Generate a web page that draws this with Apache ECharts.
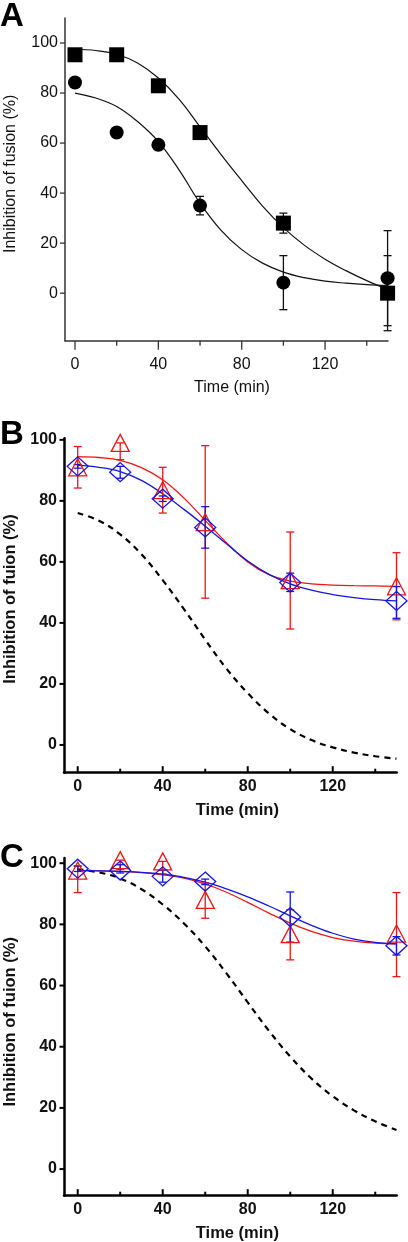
<!DOCTYPE html>
<html><head><meta charset="utf-8">
<script src="https://cdn.jsdelivr.net/npm/echarts@6/dist/echarts.min.js"></script>
<style>html,body{margin:0;padding:0;background:#fff}#c{width:408px;height:1242px}</style>
</head><body><div id="c"></div>
<script>
// ---------- DATA ----------
const majorTicksX = [0, 40, 80, 120];
const minorTicksX = [20, 60, 100, 140];
const ticksYA = [0, 20, 40, 60, 80, 100];
const ticksYBC = [0, 20, 40, 60, 80, 100];

// Panel A
const timeA = [0, 20, 40, 60, 100, 150];
const squareA = [95.3, 95.3, 82.9, 64.2, 28, 0];
const squareErrA = [0, 0, 0, 0, 4, 15];
const circleA = [84.2, 64.2, 59.3, 35, 4.2, 6];
const circleErrA = [0, 0, 0, 3.7, 10.8, 19];
const fitTime = [0, 10, 20, 30, 40, 50, 60, 70, 80, 90, 100, 110, 120, 130, 140, 150];
const squareFitA = [97.5, 97, 95.5, 92, 86, 77.5, 66.5, 55.5, 45, 34.8, 26.2, 19.2, 13.6, 9, 5, 1.5];
const circleFitA = [80, 78, 74.6, 68.6, 60.6, 49.2, 36, 25.2, 17.4, 12, 8.4, 6.2, 4.8, 4, 3.4, 3];

// Panel B
const timeBC = [0, 20, 40, 60, 100, 150];
const redB = [91, 99, 83.5, 73, 54, 52];
const redLoB = [84.2, 93.5, 76, 48.1, 38, 41];
const redHiB = [97.8, 99, 91, 98.1, 69.8, 63];
const blueB = [91.3, 89.4, 80.7, 71.3, 53.2, 47.2];
const blueLoB = [90.7, 87.4, 79.8, 64.5, 50.3, 41.5];
const blueHiB = [91.9, 91.3, 81.6, 78.1, 56.3, 51.9];
const redFitB = [94.5, 94.2, 93.3, 90.9, 86.9, 80.9, 73.6, 66.3, 60, 55.8, 53.7, 52.8, 52.4, 52.2, 52.1, 52];
const blueFitB = [91.6, 91, 89.6, 86.7, 82.3, 77.2, 71.7, 65.9, 60.3, 55.9, 52.8, 50.7, 49.3, 48.3, 47.6, 47.2];
const dashFitB = [76, 73.5, 69, 62.5, 54, 44.5, 34.5, 25, 17, 10.3, 5.2, 1.6, -0.8, -2.5, -3.7, -4.5];

// Panel C
const redC = [97.6, 101, 100.6, 88, 76.8, 77];
const redLoC = [90.4, 98, 96.5, 82, 68.4, 62.9];
const redHiC = [99, 101, 100.6, 93.5, 84.8, 90.4];
const blueC = [98.2, 97.6, 95.7, 94, 82.4, 73];
const blueLoC = [97.3, 96.8, 93.8, 93, 74.2, 70];
const blueHiC = [99.1, 99.5, 97.7, 94.8, 90.6, 76];
const redFitC = [97.6, 97.5, 97.3, 96.9, 96.2, 95.1, 93.2, 90.5, 87.2, 83.7, 80.4, 77.7, 75.7, 74.5, 73.9, 73.6];
const blueFitC = [97.6, 97.5, 97.3, 97, 96.4, 95.4, 93.8, 91.6, 89, 86, 82.8, 79.7, 77.1, 75.2, 74.1, 73.6];
const dashFitC = [98, 97, 95, 91.5, 86.5, 80.3, 72.8, 64, 54.5, 45.2, 36.8, 29.6, 23.8, 19.2, 15.6, 12.8];

// axis ranges
const rangeA = { xmin: -4.8, xmax: 150.2, ymin: -19, ymax: 110 };
const rangeB = { xmin: -6.45, xmax: 150.1, ymin: -9.1, ymax: 100.5 };
const rangeC = { xmin: -6.45, xmax: 150.1, ymin: -8.7, ymax: 101.7 };

// ---------- STYLE ----------
const FONT = 'Liberation Sans';
const RED = '#ee1515';
const BLUE = '#1515dd';

const zip = (xs, ys) => xs.map((x, i) => [x, ys[i]]);

function errSeries(ax, xs, lo, hi, color, z) {
  const data = xs.map((x, i) => [x, lo[i], hi[i]]).filter(d => d[1] !== d[2]);
  return {
    type: 'custom', xAxisIndex: ax, yAxisIndex: ax, silent: true, z: z, clip: false,
    data: data,
    renderItem: function (params, api) {
      const t = api.coord([api.value(0), api.value(2)]);
      const b = api.coord([api.value(0), api.value(1)]);
      const w = 4;
      const st = { stroke: color, lineWidth: 1.3 };
      return { type: 'group', children: [
        { type: 'line', shape: { x1: t[0], y1: t[1], x2: b[0], y2: b[1] }, style: st },
        { type: 'line', shape: { x1: t[0] - w, y1: t[1], x2: t[0] + w, y2: t[1] }, style: st },
        { type: 'line', shape: { x1: b[0] - w, y1: b[1], x2: b[0] + w, y2: b[1] }, style: st }
      ]};
    }
  };
}
// axis tick marks: one data item per tick, placed through the axes' own scales
// item = [x, y, kind]  kind 0: major x tick, 1: minor x tick, 2: y tick
function tickSeries(ax, r, yVals, thin) {
  const data = []
    .concat(majorTicksX.map(v => [v, r.ymin, 0]))
    .concat(minorTicksX.map(v => [v, r.ymin, 1]))
    .concat(yVals.map(v => [r.xmin, v, 2]));
  const color = thin ? '#333' : '#000';
  const lw = thin ? 1.3 : 2;
  const dir = thin ? 1 : -1;
  return {
    type: 'custom', xAxisIndex: ax, yAxisIndex: ax, silent: true, z: 6, clip: false,
    data: data,
    renderItem: function (params, api) {
      const p = api.coord([api.value(0), api.value(1)]);
      const kind = api.value(2);
      const st = { stroke: color, lineWidth: lw };
      if (kind === 2) {
        return { type: 'line', shape: { x1: p[0] - (thin ? 5 : 4.5), y1: p[1], x2: p[0], y2: p[1] }, style: st };
      }
      const len = kind === 0 ? (thin ? 9 : 6.5) : (thin ? 5 : 4);
      return { type: 'line', shape: { x1: p[0], y1: p[1], x2: p[0], y2: p[1] + dir * len }, style: st };
    }
  };
}
function fitLine(ax, ys, color, width, dashed) {
  return {
    type: 'line', xAxisIndex: ax, yAxisIndex: ax, data: zip(fitTime, ys), smooth: 0.4,
    showSymbol: false, silent: true, z: 2,
    lineStyle: { color: color, width: width, type: dashed ? [6, 5] : 'solid' }
  };
}
function scat(ax, xs, ys, symbol, size, fill, stroke, z) {
  return {
    type: 'scatter', xAxisIndex: ax, yAxisIndex: ax, data: zip(xs, ys), symbol: symbol,
    symbolSize: size, clip: false, silent: true, z: z,
    itemStyle: { color: fill, borderColor: stroke, borderWidth: stroke ? 1.3 : 0, opacity: 1 }
  };
}

// axes
function xAx(g, r, thin) {
  return {
    type: 'value', gridIndex: g, min: r.xmin, max: r.xmax, position: 'bottom',
    name: 'Time (min)', nameLocation: 'middle', nameGap: thin ? 39 : 29,
    nameTextStyle: { fontFamily: FONT, fontSize: thin ? 16 : 16.5, fontWeight: thin ? 'normal' : 'bold', color: '#111', padding: [0, 0, 0, thin ? 11 : 14] },
    axisLine: { show: true, onZero: false, lineStyle: { color: thin ? '#333' : '#000', width: thin ? 1.5 : 2.5 } },
    axisTick: { show: false },
    axisLabel: { show: true, customValues: majorTicksX, margin: thin ? 16 : 6, fontFamily: FONT, fontSize: 16, fontWeight: thin ? 'normal' : 'bold', color: '#111' },
    splitLine: { show: false }
  };
}
function yAx(g, r, ticks, thin, title, padL) {
  return {
    type: 'value', gridIndex: g, min: r.ymin, max: r.ymax, position: 'left',
    name: title, nameLocation: 'middle', nameRotate: 90, nameGap: thin ? 46 : 43,
    nameTextStyle: { fontFamily: FONT, fontSize: thin ? 16 : 16.5, fontWeight: thin ? 'normal' : 'bold', color: '#111', padding: [0, 0, 0, padL] },
    axisLine: { show: true, onZero: false, lineStyle: { color: thin ? '#333' : '#000', width: thin ? 1.5 : 2.5 } },
    axisTick: { show: false },
    axisLabel: { show: true, customValues: ticks, margin: 7, fontFamily: FONT, fontSize: 16, fontWeight: thin ? 'normal' : 'bold', color: '#111' },
    splitLine: { show: false }
  };
}

const gridBase = { outerBoundsMode: 'none' };
const option = {
  animation: false,
  backgroundColor: '#fff',
  grid: [
    Object.assign({ left: 65, top: 18, width: 323, height: 322.7 }, gridBase),
    Object.assign({ left: 64, top: 438.3, width: 332.7, height: 334.4 }, gridBase),
    Object.assign({ left: 64, top: 858, width: 332.7, height: 337.7 }, gridBase)
  ],
  xAxis: [
    xAx(0, rangeA, true),
    xAx(1, rangeB, false),
    xAx(2, rangeC, false)
  ],
  yAxis: [
    yAx(0, rangeA, ticksYA, true, 'Inhibition of fusion (%)', 11),
    yAx(1, rangeB, ticksYBC, false, 'Inhibition of fuion (%)', 13),
    yAx(2, rangeC, ticksYBC, false, 'Inhibition of fuion (%)', 10)
  ],
  graphic: [
    { type: 'text', left: 0, top: 0, style: { text: 'A', font: 'bold 33px "Liberation Sans"', fill: '#000' } },
    { type: 'text', left: 0, top: 418, style: { text: 'B', font: 'bold 33px "Liberation Sans"', fill: '#000' } },
    { type: 'text', left: 0, top: 841.5, style: { text: 'C', font: 'bold 33px "Liberation Sans"', fill: '#000' } }
  ],
  series: [
    // A
    fitLine(0, squareFitA, '#111', 1.2, false),
    fitLine(0, circleFitA, '#111', 1.2, false),
    errSeries(0, timeA, squareA.map((v, i) => v - squareErrA[i]), squareA.map((v, i) => v + squareErrA[i]), '#111', 3),
    errSeries(0, timeA, circleA.map((v, i) => v - circleErrA[i]), circleA.map((v, i) => v + circleErrA[i]), '#111', 3),
    scat(0, timeA, squareA, 'rect', 15, '#000', null, 4),
    scat(0, timeA, circleA, 'circle', 14, '#000', null, 4),
    // B
    fitLine(1, dashFitB, '#000', 2.2, true),
    fitLine(1, redFitB, RED, 1.3, false),
    fitLine(1, blueFitB, BLUE, 1.3, false),
    errSeries(1, timeBC, redLoB, redHiB, RED, 3),
    errSeries(1, timeBC, blueLoB, blueHiB, BLUE, 3),
    scat(1, timeBC, redB, 'triangle', [18, 17], 'rgba(0,0,0,0)', RED, 4),
    scat(1, timeBC, blueB, 'diamond', [21, 19], 'rgba(0,0,0,0)', BLUE, 4),
    // C
    fitLine(2, dashFitC, '#000', 2.2, true),
    fitLine(2, redFitC, RED, 1.3, false),
    fitLine(2, blueFitC, BLUE, 1.3, false),
    errSeries(2, timeBC, redLoC, redHiC, RED, 3),
    errSeries(2, timeBC, blueLoC, blueHiC, BLUE, 3),
    scat(2, timeBC, redC, 'triangle', [18, 17], 'rgba(0,0,0,0)', RED, 4),
    scat(2, timeBC, blueC, 'diamond', [21, 19], 'rgba(0,0,0,0)', BLUE, 4),
    // axis ticks
    tickSeries(0, rangeA, ticksYA, true),
    tickSeries(1, rangeB, ticksYBC, false),
    tickSeries(2, rangeC, ticksYBC, false)
  ]
};
const chart = echarts.init(document.getElementById('c'), null, { renderer: 'canvas' });
chart.setOption(option);
</script>
</body></html>
